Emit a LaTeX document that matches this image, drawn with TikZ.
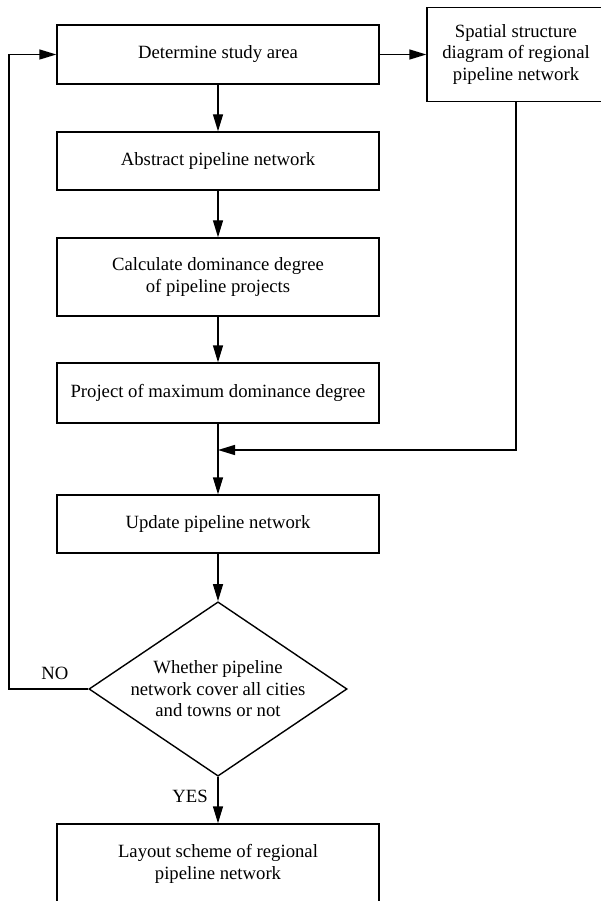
\documentclass[tikz,border=0pt]{standalone}
\usepackage{fontspec}
\setmainfont{Liberation Serif}
\usetikzlibrary{arrows.meta,shapes.geometric}
\begin{document}
\begin{tikzpicture}[x=1pt,y=-1pt,
  every node/.style={font=\fontsize{18.7}{21.5}\selectfont},
  box/.style={draw, line width=1.4pt, minimum width=322pt, inner sep=0pt, align=center},
  link/.style={line width=1.4pt, -{Triangle[length=17pt,width=10pt]}},
  plain/.style={line width=1.4pt}]
\clip (0,0) rectangle (601,901);
\node[box, minimum height=59pt] (b1) at (218,54.5) {Determine study area};
\node[box, minimum height=58pt] (b2) at (218,161) {Abstract pipeline network};
\node[box, minimum height=78pt] (b3) at (218,277) {Calculate dominance degree\\of pipeline projects};
\node[box, minimum height=60pt] (b4) at (218,393) {Project of maximum dominance degree};
\node[box, minimum height=58pt] (b5) at (218,524) {Update pipeline network};
\node[draw, diamond, line width=1.4pt, aspect=1.48, inner sep=0pt, minimum width=258pt, minimum height=174pt, align=center] (d) at (218,689) {Whether pipeline\\network cover all cities\\and towns or not};
\node[box, minimum height=80pt] (b6) at (218,864) {Layout scheme of regional\\pipeline network};
\node[box, minimum width=178pt, minimum height=94.5pt] (r) at (516,54.5) {Spatial structure\\diagram of regional\\pipeline network};
\coordinate (m) at (218,450);
\coordinate (fb) at (9,54.5);
\draw[link] (b1.east) -- (r.west);
\draw[link] (b1) -- (b2);
\draw[link] (b2) -- (b3);
\draw[link] (b3) -- (b4);
\draw[link] (b4) -- (b5);
\draw[link] (r.south) |- (m);
\draw[link] (b5) -- (d);
\draw[link] (d.south) -- (b6.north);
\draw[link] (d.west) -| (fb) -- (b1.west);
\node (no) at (55,673) {NO};
\node (yes) at (190,796) {YES};
\end{tikzpicture}
\end{document}
